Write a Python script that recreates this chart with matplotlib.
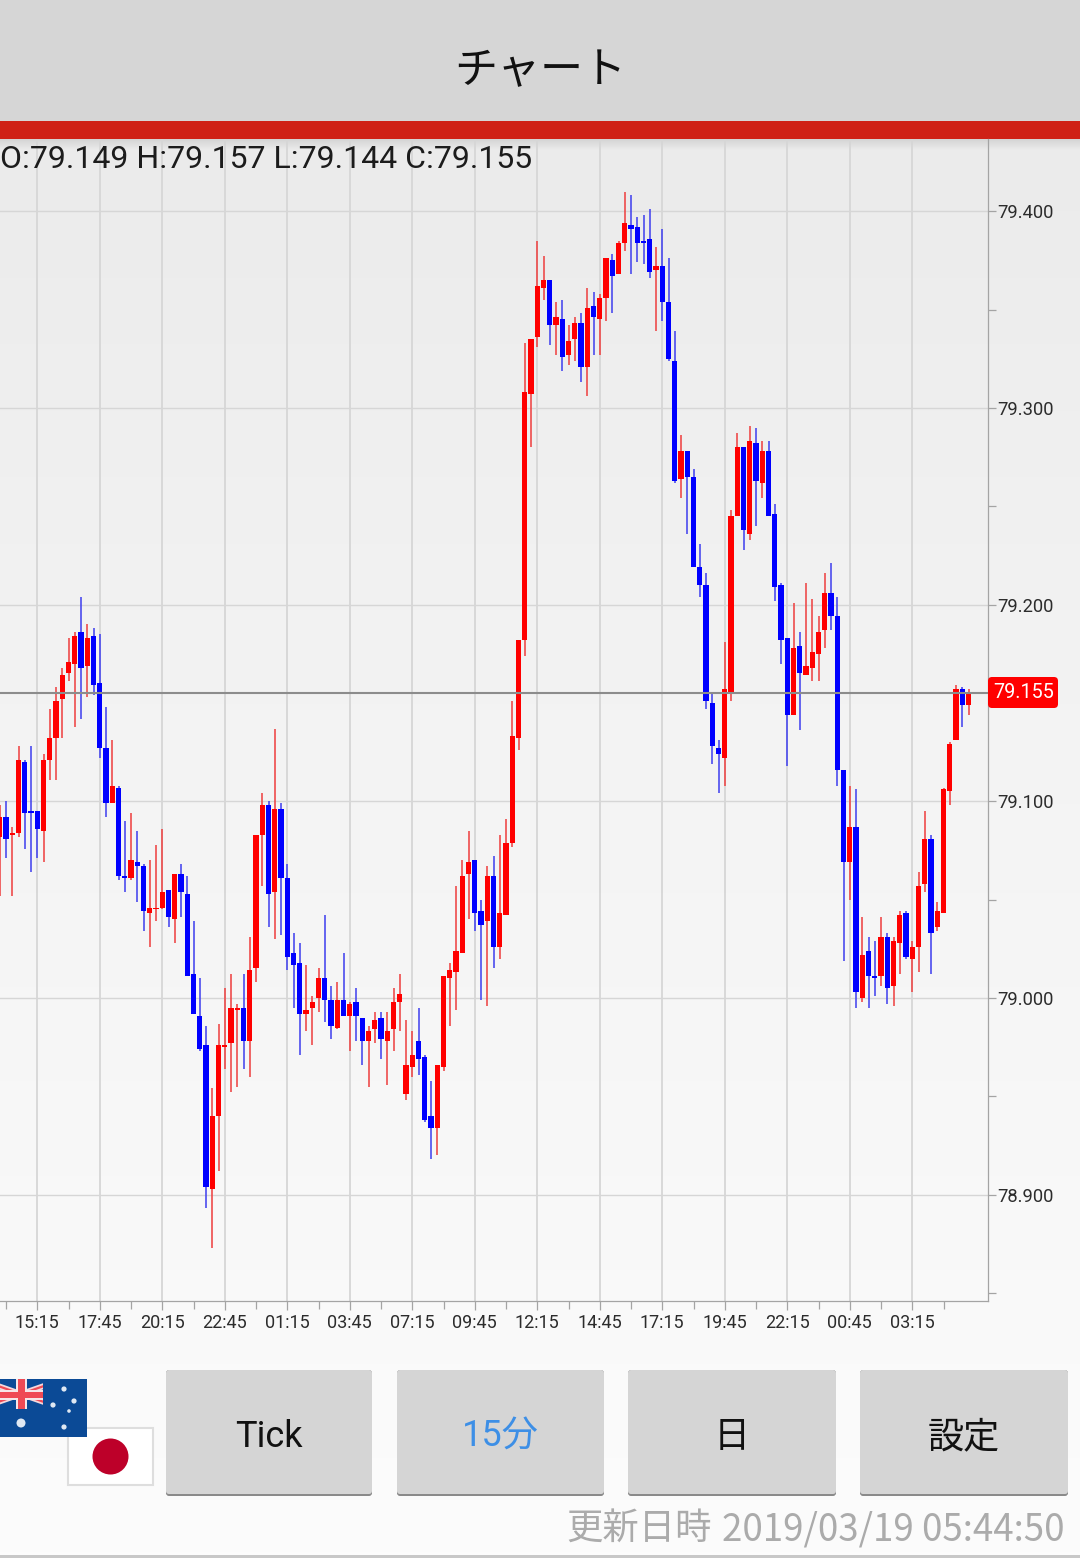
import numpy as np
import matplotlib
matplotlib.use("Agg")
import matplotlib.pyplot as plt
from matplotlib.colors import LinearSegmentedColormap
from matplotlib.patches import Rectangle, Circle, FancyBboxPatch
from matplotlib.ticker import FixedLocator, FixedFormatter

plt.rcParams['font.family'] = ['Roboto', 'Noto Sans CJK JP', 'DejaVu Sans']

opens = [79.082,79.092,79.083,79.084,79.120,79.095,79.095,79.085,79.121,79.132,
 79.152,79.165,79.170,79.186,79.169,79.184,79.160,79.127,79.099,79.107,
 79.062,79.061,79.069,79.067,79.043,79.045,79.046,79.055,79.040,79.063,
 79.053,79.012,78.991,78.976,78.903,78.940,78.975,78.977,78.994,78.995,
 78.978,79.015,79.083,79.098,79.054,79.096,79.061,79.023,79.018,78.992,
 78.995,79.000,79.010,78.999,78.985,78.999,78.991,78.998,78.990,78.978,
 78.984,78.990,78.978,78.984,78.998,78.951,78.965,78.978,78.970,78.940,
 78.934,78.965,79.010,79.013,79.023,79.063,79.070,79.044,79.039,79.062,
 79.026,79.042,79.079,79.132,79.182,79.307,79.336,79.361,79.365,79.342,
 79.345,79.327,79.335,79.343,79.321,79.352,79.345,79.356,79.375,79.368,
 79.384,79.393,79.392,79.385,79.386,79.370,79.372,79.354,79.324,79.264,
 79.278,79.265,79.219,79.210,79.150,79.127,79.122,79.155,79.245,79.280,
 79.236,79.282,79.262,79.278,79.246,79.210,79.183,79.144,79.179,79.164,
 79.168,79.175,79.187,79.206,79.194,79.116,79.069,79.087,79.000,79.024,
 79.011,79.011,79.031,79.006,79.028,79.043,79.020,79.026,79.058,79.081,
 79.036,79.043,79.105,79.131,79.157,79.149]

highs = [79.098,79.100,79.087,79.128,79.121,79.128,79.095,79.124,79.147,79.158,
 79.168,79.183,79.186,79.204,79.190,79.188,79.185,79.148,79.131,79.108,
 79.090,79.094,79.085,79.068,79.070,79.078,79.086,79.055,79.063,79.068,
 79.062,79.039,79.010,78.986,78.954,78.987,79.005,79.012,78.997,79.012,
 79.031,79.083,79.104,79.100,79.137,79.099,79.068,79.033,79.028,79.017,
 79.001,79.015,79.042,79.006,79.008,79.023,78.998,79.005,78.990,78.986,
 78.993,78.993,78.993,79.005,79.012,78.989,78.983,78.995,78.971,78.958,
 78.966,79.011,79.018,79.057,79.070,79.085,79.070,79.050,79.067,79.072,
 79.083,79.091,79.151,79.182,79.333,79.335,79.385,79.377,79.365,79.354,
 79.355,79.342,79.346,79.348,79.361,79.359,79.358,79.376,79.378,79.385,
 79.410,79.408,79.397,79.398,79.401,79.382,79.391,79.376,79.339,79.286,
 79.278,79.269,79.231,79.216,79.155,79.131,79.181,79.248,79.287,79.280,
 79.291,79.290,79.283,79.283,79.251,79.211,79.183,79.201,79.186,79.211,
 79.203,79.194,79.216,79.221,79.204,79.116,79.108,79.106,79.041,79.031,
 79.029,79.041,79.033,79.031,79.044,79.044,79.029,79.064,79.095,79.083,
 79.049,79.107,79.130,79.159,79.158,79.157]

lows = [79.052,79.071,79.052,79.082,79.076,79.064,79.071,79.069,79.111,79.111,
 79.132,79.161,79.138,79.142,79.153,79.154,79.122,79.092,79.099,79.060,
 79.054,79.060,79.049,79.034,79.026,79.039,79.045,79.036,79.028,79.041,
 79.011,78.992,78.973,78.893,78.873,78.912,78.964,78.952,78.955,78.964,
 78.960,79.008,79.057,79.036,79.030,79.032,79.014,78.995,78.971,78.983,
 78.976,78.993,78.988,78.979,78.984,78.991,78.973,78.978,78.966,78.955,
 78.977,78.969,78.956,78.973,78.983,78.948,78.960,78.961,78.937,78.918,
 78.920,78.963,78.986,78.994,79.023,79.040,79.034,78.999,78.996,79.015,
 79.020,79.042,79.077,79.126,79.174,79.280,79.331,79.355,79.332,79.327,
 79.319,79.322,79.324,79.313,79.306,79.327,79.327,79.344,79.348,79.368,
 79.380,79.368,79.374,79.373,79.366,79.339,79.344,79.324,79.262,79.254,
 79.236,79.219,79.204,79.147,79.119,79.104,79.108,79.151,79.245,79.228,
 79.233,79.240,79.254,79.245,79.202,79.170,79.118,79.144,79.136,79.164,
 79.161,79.161,79.178,79.187,79.108,79.019,79.050,78.995,78.998,78.995,
 79.001,79.006,78.997,78.996,79.012,79.020,79.003,79.013,79.054,79.012,
 79.034,79.043,79.098,79.131,79.138,79.144]

closes = [79.092,79.081,79.084,79.121,79.094,79.094,79.086,79.121,79.132,79.151,
 79.164,79.171,79.184,79.168,79.183,79.159,79.127,79.099,79.108,79.062,
 79.061,79.070,79.067,79.044,79.046,79.046,79.054,79.041,79.063,79.054,
 79.011,78.992,78.974,78.904,78.940,78.976,78.976,78.995,78.995,78.978,
 79.014,79.083,79.098,79.053,79.096,79.061,79.021,79.017,78.992,78.994,
 78.998,79.010,78.999,78.986,78.999,78.991,78.997,78.991,78.978,78.983,
 78.989,78.979,78.983,78.998,79.002,78.966,78.971,78.969,78.938,78.934,
 78.966,79.011,79.014,79.024,79.062,79.069,79.043,79.037,79.062,79.026,
 79.043,79.079,79.133,79.182,79.308,79.335,79.362,79.365,79.342,79.346,
 79.326,79.334,79.343,79.321,79.351,79.346,79.356,79.376,79.367,79.384,
 79.394,79.391,79.384,79.384,79.369,79.372,79.354,79.325,79.263,79.278,
 79.265,79.219,79.210,79.151,79.128,79.124,79.157,79.245,79.280,79.238,
 79.283,79.263,79.278,79.245,79.209,79.182,79.144,79.178,79.165,79.169,
 79.176,79.186,79.206,79.194,79.116,79.069,79.087,79.003,79.022,79.011,
 79.010,79.031,79.005,79.029,79.042,79.021,79.026,79.057,79.081,79.033,
 79.044,79.106,79.129,79.157,79.149,79.155]

time_labels = ['15:15','17:45','20:15','22:45','01:15','03:45','07:15','09:45',
               '12:15','14:45','17:15','19:45','22:15','00:45','03:15']
time_positions = [6,16,26,36,46,56,66,76,86,96,106,116,126,136,146]
minor_time_positions = [1,11,21,31,41,51,61,71,81,91,101,111,121,131,141,151]
price_major = [78.9,79.0,79.1,79.2,79.3,79.4]
price_minor = [78.85,78.95,79.05,79.15,79.25,79.35]
last_price = 79.155
header = 'O:79.149 H:79.157 L:79.144 C:79.155'

W, H = 1080, 1558
fig = plt.figure(figsize=(W/100, H/100), dpi=100, facecolor='#fcfcfc')

# page layer in pixel coordinates
ui = fig.add_axes([0, 0, 1, 1], zorder=0)
ui.set_xlim(0, W); ui.set_ylim(H, 0); ui.axis('off')
cmap = LinearSegmentedColormap.from_list('bg', ['#ebebeb', '#f2f2f2', '#f7f7f7', '#fcfcfc'])
ui.imshow(np.linspace(0, 1, 256)[:, None], extent=(0, W, 1558, 139), cmap=cmap,
          aspect='auto', zorder=0, vmin=0, vmax=1)
ui.set_xlim(0, W); ui.set_ylim(H, 0)
shadow = LinearSegmentedColormap.from_list('sh', ['#d4d4d4', '#ebebeb'])
ui.imshow(np.linspace(0, 1, 32)[:, None], extent=(0, W, 150, 139), cmap=shadow,
          aspect='auto', zorder=0.5, vmin=0, vmax=1)
ui.set_xlim(0, W); ui.set_ylim(H, 0)

ui.add_patch(Rectangle((0, 0), W, 122, fc='#d6d6d6', ec='none', zorder=1))
ui.add_patch(Rectangle((0, 121), W, 18, fc='#cf2116', ec='none', zorder=1))
ui.text(540, 71, 'チャート', ha='center', va='center', fontsize=31, color='#111111',
        family=['Noto Sans CJK JP', 'DejaVu Sans'], zorder=2)

# buttons
buttons = [(166, 206, 'Tick', '#111111'), (397, 207, '15分', '#3d8fe6'),
           (628, 208, '日', '#111111'), (860, 208, '設定', '#111111')]
for x, w, label, col in buttons:
    ui.add_patch(FancyBboxPatch((x+2, 1372), w-4, 122, boxstyle='round,pad=2,rounding_size=3',
                                fc='#8a8a8a', ec='none', zorder=1))
    ui.add_patch(FancyBboxPatch((x+2, 1372), w-4, 120, boxstyle='round,pad=2,rounding_size=3',
                                fc='#d5d5d5', ec='none', zorder=1.1))
    ui.text(x+w/2, 1437, label, ha='center', va='center',
            fontsize=26, color=col, family=['Roboto', 'Noto Sans CJK JP'], zorder=2)

# Japanese flag
ui.add_patch(Rectangle((68, 1428), 85, 56.5, fc='#ffffff', ec='#dedede', lw=1.5, zorder=1))
ui.add_patch(Circle((110.5, 1456.5), 18, fc='#bd0029', ec='none', zorder=1.1))
# Australian flag
ui.add_patch(Rectangle((0, 1379), 86.5, 58, fc='#0b4a96', ec='none', zorder=1.2))
canton = [(-22, 1379, 21, 1394), (-22, 1409, 21, 1394), (64, 1379, 21, 1394), (64, 1409, 21, 1394)]
cl = Rectangle((0, 1379), 43, 30, transform=ui.transData)
for x0, y0, x1, y1 in canton:
    l1, = ui.plot([x0, x1], [y0, y1], color='#f4d8dc', lw=4.2, zorder=1.3, solid_capstyle='butt')
    l2, = ui.plot([x0, x1], [y0, y1], color='#ef4a55', lw=1.6, zorder=1.35, solid_capstyle='butt')
    l1.set_clip_path(cl); l2.set_clip_path(cl)
ui.add_patch(Rectangle((15.5, 1379), 11, 30, fc='#f6e6e8', ec='none', zorder=1.4))
ui.add_patch(Rectangle((0, 1389.5), 43, 10, fc='#f6e6e8', ec='none', zorder=1.4))
ui.add_patch(Rectangle((17.5, 1379), 7, 30, fc='#ef4a55', ec='none', zorder=1.5))
ui.add_patch(Rectangle((0, 1391.5), 43, 6, fc='#ef4a55', ec='none', zorder=1.5))
for sx, sy, r in [(21, 1423, 4.5), (64, 1389, 2.6), (74, 1401, 2.6), (53, 1405, 2.6), (69, 1411, 1.8), (64, 1427, 2.6)]:
    ui.add_patch(Circle((sx, sy), r, fc='#dfe8f3', ec='none', zorder=1.6))

ui.text(712, 1530, '更新日時', ha='right', va='center', fontsize=26.2,
        color='#ababab', family=['Noto Sans CJK JP', 'DejaVu Sans'], zorder=2)
ui.text(1065, 1530, '2019/03/19 05:44:50', ha='right', va='center', fontsize=26.4,
        color='#ababab', family=['Noto Sans CJK JP', 'DejaVu Sans'], zorder=2)
ui.add_patch(Rectangle((0, 1555), W, 3, fc='#c8c8c8', ec='none', zorder=2))

# chart
left, right, top, bottom = 0, 988, 139, 1300.5
ax = fig.add_axes([left/W, 1-bottom/H, (right-left)/W, (bottom-top)/H], zorder=1)
ax.patch.set_alpha(0)
y_of = lambda px: 79.0 + (998 - px)/1967.0
x_of = lambda px: (px + 0.2)/6.25
ax.set_xlim(x_of(left), x_of(right))
ax.set_ylim(y_of(bottom), y_of(top))

o, h, l, c = map(np.array, (opens, highs, lows, closes))
idx = np.arange(len(o))
up = c >= o
colors = np.where(up, '#ff0000', '#0000ff')
wick_colors = np.where(up, '#ee4444', '#4444ee')
ax.vlines(idx, l, h, colors=wick_colors, lw=1.15, zorder=2)
ax.bar(idx, np.abs(c-o), bottom=np.minimum(o, c), width=0.82, color=colors, lw=0, zorder=3)

ax.axhline(last_price, color='#8c8c8c', lw=1.5, zorder=4)

ax.xaxis.set_major_locator(FixedLocator(time_positions))
ax.xaxis.set_major_formatter(FixedFormatter(time_labels))
ax.xaxis.set_minor_locator(FixedLocator(minor_time_positions))
ax.yaxis.tick_right()
ax.yaxis.set_major_locator(FixedLocator(price_major))
ax.yaxis.set_major_formatter(FixedFormatter([f'{v:.3f}' for v in price_major]))
ax.yaxis.set_minor_locator(FixedLocator(price_minor))
ax.grid(True, which='major', axis='x', color='#d6d6d6', lw=1.3, zorder=1)
ax.grid(True, which='major', axis='y', color='#d6d6d6', lw=1.0, zorder=1)
ax.set_axisbelow(True)
for s in ('left', 'top'):
    ax.spines[s].set_visible(False)
for s in ('right', 'bottom'):
    ax.spines[s].set_color('#a4a4a4'); ax.spines[s].set_linewidth(0.9)
ax.tick_params(axis='x', which='major', length=6.5, width=0.9, color='#a4a4a4', pad=3,
               labelsize=13, labelcolor='#2c2c2c')
ax.tick_params(axis='x', which='minor', length=5.4, width=0.9, color='#a4a4a4')
ax.tick_params(axis='y', which='major', length=5.5, width=0.9, color='#a4a4a4', pad=1.5,
               labelsize=13.2, labelcolor='#2c2c2c')
ax.tick_params(axis='y', which='minor', length=5.5, width=0.9, color='#a4a4a4')

# layer on top of the chart: OHLC header and current price tag
tag = fig.add_axes([0, 0, 1, 1], zorder=2)
tag.set_xlim(0, W); tag.set_ylim(H, 0); tag.axis('off')
tag.text(0, 159, header, ha='left', va='center', fontsize=23, color='#1c1c1c', family='Roboto')
tag.add_patch(FancyBboxPatch((991, 680), 64, 25, boxstyle='round,pad=3,rounding_size=4',
                             fc='#ff0000', ec='none'))
tag.text(1023.5, 692.5, f'{last_price:.3f}', ha='center', va='center', fontsize=14.2,
         color='#ffffff', family='Roboto')

fig.savefig('out.png', dpi=100, facecolor=fig.get_facecolor())
